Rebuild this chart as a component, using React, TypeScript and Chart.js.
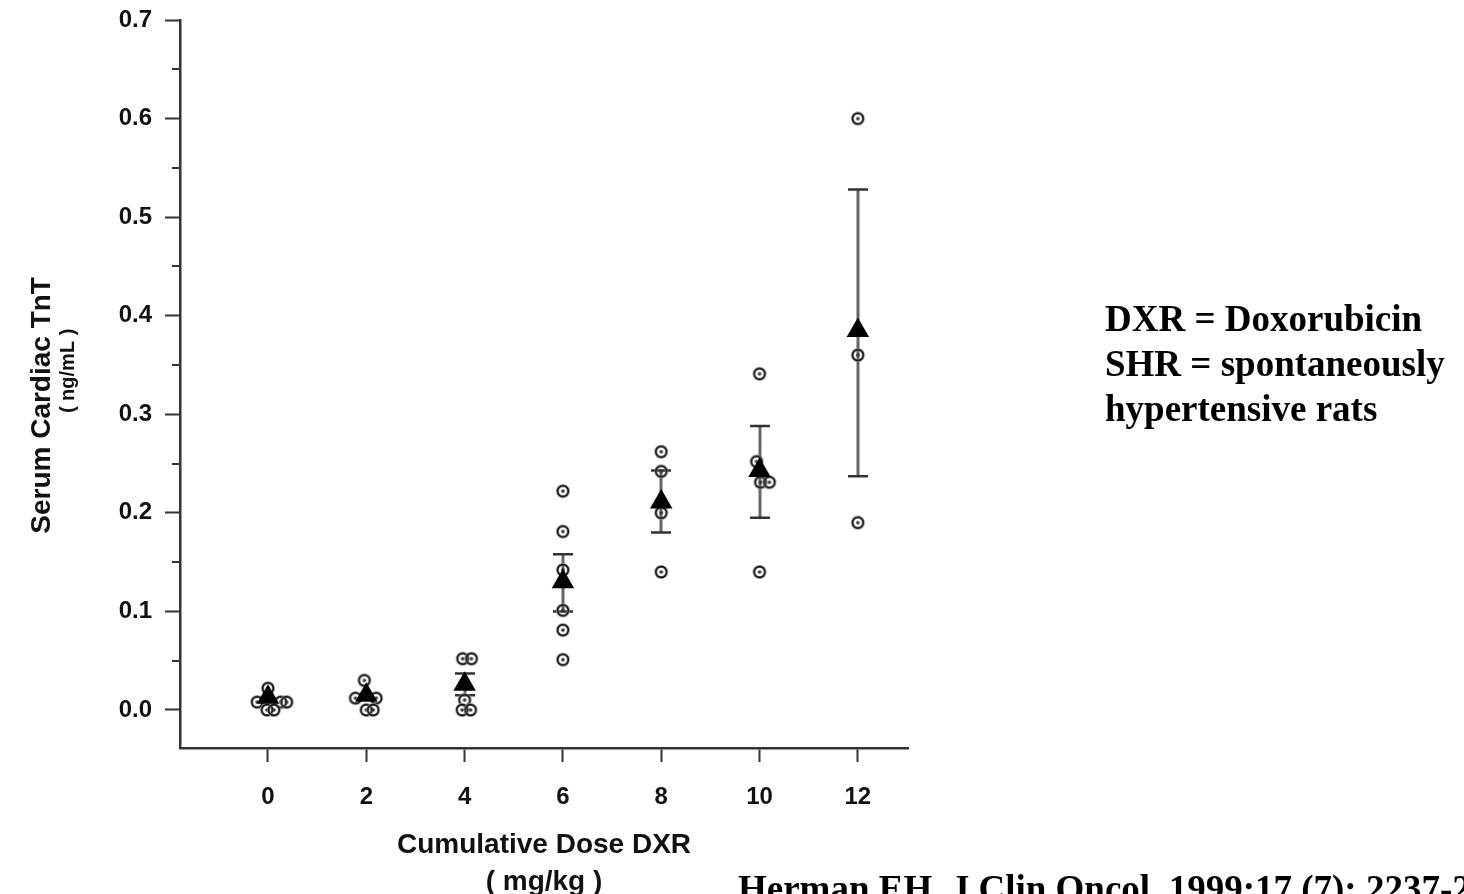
import React, { useEffect, useRef } from "react";
import { Chart, registerables } from "chart.js";

Chart.register(...registerables);

// ---- data ----
const doseTicks = [0, 2, 4, 6, 8, 10, 12];
const yTicks = [0, 0.1, 0.2, 0.3, 0.4, 0.5, 0.6, 0.7];
const yMinorTicks = [0.05, 0.15, 0.25, 0.35, 0.45, 0.55, 0.65];

// individual animals (dose plotted with the small horizontal offsets seen in the figure)
const ratDose = [
  -0.22, 0.0, 0.26, 0.38, -0.02, 0.12,
  1.78, 1.96, 2.2, 2.0, 2.14,
  3.96, 4.14, 4.0, 3.95, 4.12,
  6, 6, 6, 6, 6, 6,
  8, 8, 8, 8,
  10, 9.94, 10.02, 10.2, 10,
  12, 12, 12,
];
const ratTnT = [
  0.008, 0.022, 0.008, 0.008, 0.0, 0.0,
  0.012, 0.03, 0.012, 0.0, 0.0,
  0.052, 0.052, 0.01, 0.0, 0.0,
  0.222, 0.181, 0.142, 0.101, 0.081, 0.051,
  0.262, 0.242, 0.2, 0.14,
  0.341, 0.252, 0.231, 0.231, 0.14,
  0.6, 0.36, 0.19,
];

// group means and error bars
const meanTnT = [0.013, 0.015, 0.026, 0.13, 0.211, 0.243, 0.385];
const errHigh = [null, null, 0.037, 0.158, 0.243, 0.288, 0.528];
const errLow = [null, null, 0.015, 0.1, 0.18, 0.195, 0.237];

const yTitle = "Serum Cardiac TnT";
const yUnit = "( ng/mL )";
const xTitle = "Cumulative Dose DXR";
const xUnit = "( mg/kg )";
const notes = ["DXR = Doxorubicin", "SHR = spontaneously", "hypertensive rats"];
const citation = "Herman EH, J Clin Oncol. 1999;17 (7): 2237-2243";

const SANS = '"Liberation Sans", Arial, Helvetica, sans-serif';
const SERIF = '"Liberation Serif", "Times New Roman", serif';

function makeRatMarker(): HTMLCanvasElement {
  const c = document.createElement("canvas");
  c.width = 16;
  c.height = 16;
  const g = c.getContext("2d")!;
  g.strokeStyle = "#999";
  g.lineWidth = 3;
  g.beginPath();
  g.arc(8, 8, 5.4, 0, Math.PI * 2);
  g.stroke();
  g.strokeStyle = "#111";
  g.lineWidth = 1.6;
  g.beginPath();
  g.arc(8, 8, 5.4, 0, Math.PI * 2);
  g.stroke();
  g.fillStyle = "#333";
  g.beginPath();
  g.arc(8, 8, 1.8, 0, Math.PI * 2);
  g.fill();
  return c;
}

const errorBarPlugin = {
  id: "errorBars",
  beforeDatasetsDraw(chart: any) {
    const { ctx, scales } = chart;
    const xs = scales.x;
    const ys = scales.y;
    ctx.save();
    doseTicks.forEach((d, i) => {
      const hi = errHigh[i];
      const lo = errLow[i];
      if (hi == null || lo == null) return;
      const px = Math.round(xs.getPixelForValue(d));
      const pHi = ys.getPixelForValue(hi);
      const pLo = ys.getPixelForValue(lo);
      ctx.strokeStyle = "#666";
      ctx.lineWidth = 3;
      ctx.beginPath();
      ctx.moveTo(px, pHi);
      ctx.lineTo(px, pLo);
      ctx.stroke();
      ctx.strokeStyle = "#333";
      ctx.lineWidth = 2.5;
      ctx.beginPath();
      ctx.moveTo(px - 10, pHi);
      ctx.lineTo(px + 10, pHi);
      ctx.moveTo(px - 10, pLo);
      ctx.lineTo(px + 10, pLo);
      ctx.stroke();
    });
    ctx.restore();
  },
};

const decorPlugin = {
  id: "decor",
  afterDraw(chart: any) {
    const { ctx, scales, chartArea } = chart;
    const ys = scales.y;
    const xs = scales.x;
    ctx.save();
    // minor y ticks
    ctx.strokeStyle = "#333";
    ctx.lineWidth = 2;
    yMinorTicks.forEach((v) => {
      const py = Math.round(ys.getPixelForValue(v));
      ctx.beginPath();
      ctx.moveTo(chartArea.left - 8, py);
      ctx.lineTo(chartArea.left, py);
      ctx.stroke();
    });
    ctx.fillStyle = "#111";
    ctx.textAlign = "center";
    ctx.textBaseline = "middle";
    // y title (two lines)
    ctx.save();
    ctx.translate(42, ys.getPixelForValue(0.309));
    ctx.rotate(-Math.PI / 2);
    ctx.font = `bold 28px ${SANS}`;
    ctx.fillText(yTitle, 0, 0);
    ctx.restore();
    ctx.save();
    ctx.translate(68, ys.getPixelForValue(0.344));
    ctx.rotate(-Math.PI / 2);
    ctx.font = `bold 20px ${SANS}`;
    ctx.fillText(yUnit, 0, 0);
    ctx.restore();
    // x title (two lines)
    const cx = (xs.left + xs.right) / 2;
    ctx.font = `bold 28px ${SANS}`;
    ctx.fillText(xTitle, cx, 845);
    ctx.fillText(xUnit, cx, 882);
    ctx.restore();
  },
};

export default function App() {
  const canvasRef = useRef<HTMLCanvasElement | null>(null);

  useEffect(() => {
    const canvas = canvasRef.current;
    if (!canvas) return;
    const ratMarker = makeRatMarker();
    const chart = new Chart(canvas, {
      type: "scatter",
      data: {
        datasets: [
          {
            label: "Mean",
            data: doseTicks.map((d, i) => ({ x: d, y: meanTnT[i] })),
            pointStyle: "triangle",
            pointRadius: 13,
            backgroundColor: "#000",
            borderColor: "#000",
            borderWidth: 0,
          },
          {
            label: "Individual",
            data: ratDose.map((d, i) => ({ x: d, y: ratTnT[i] })),
            pointStyle: ratMarker as any,
            pointRadius: 7,
          },
        ],
      },
      options: {
        animation: false,
        responsive: false,
        devicePixelRatio: 1,
        layout: { padding: { left: 0, top: 20, right: 556, bottom: 0 } },
        plugins: {
          legend: { display: false },
          tooltip: { enabled: false },
        },
        scales: {
          x: {
            type: "linear",
            min: -1.79,
            max: 13.02,
            afterFit(scale: any) {
              scale.height = 146;
              scale.paddingLeft = 0;
              scale.paddingRight = 0;
            },
            afterBuildTicks(scale: any) {
              scale.ticks = doseTicks.map((v) => ({ value: v }));
            },
            ticks: {
              color: "#111",
              font: { family: SANS, size: 24, weight: "bold" },
              padding: 21,
              maxRotation: 0,
              callback: (v: any) => String(v),
            },
            grid: {
              display: true,
              drawOnChartArea: false,
              drawTicks: true,
              tickLength: 14,
              tickColor: "#333",
              tickWidth: 2,
            },
            border: { display: true, color: "#333", width: 2.5 },
          },
          y: {
            type: "linear",
            min: -0.0386,
            max: 0.7,
            afterFit(scale: any) {
              scale.width = 180;
              scale.paddingTop = 0;
              scale.paddingBottom = 0;
            },
            afterBuildTicks(scale: any) {
              scale.ticks = yTicks.map((v) => ({ value: v }));
            },
            ticks: {
              color: "#111",
              font: { family: SANS, size: 24, weight: "bold" },
              padding: 13,
              callback: (v: any) => Number(v).toFixed(1),
            },
            grid: {
              display: true,
              drawOnChartArea: false,
              drawTicks: true,
              tickLength: 15,
              tickColor: "#333",
              tickWidth: 2,
            },
            border: { display: true, color: "#333", width: 2.5 },
          },
        },
      },
      plugins: [errorBarPlugin, decorPlugin],
    });
    return () => chart.destroy();
  }, []);

  return (
    <div
      style={{
        position: "fixed",
        left: 0,
        top: 0,
        width: 1464,
        height: 894,
        overflow: "hidden",
        background: "#fff",
      }}
    >
      <canvas
        ref={canvasRef}
        width={1464}
        height={894}
        style={{ position: "absolute", left: 0, top: 0, width: 1464, height: 894 }}
      />
      <div
        style={{
          position: "absolute",
          left: 1105,
          top: 296,
          font: `bold 37px ${SERIF}`,
          lineHeight: "45px",
          color: "#000",
          whiteSpace: "nowrap",
        }}
      >
        {notes.map((n) => (
          <div key={n}>{n}</div>
        ))}
      </div>
      <div
        style={{
          position: "absolute",
          left: 738,
          top: 866,
          font: `bold 37px ${SERIF}`,
          lineHeight: "45px",
          color: "#000",
          whiteSpace: "nowrap",
        }}
      >
        {citation}
      </div>
    </div>
  );
}
